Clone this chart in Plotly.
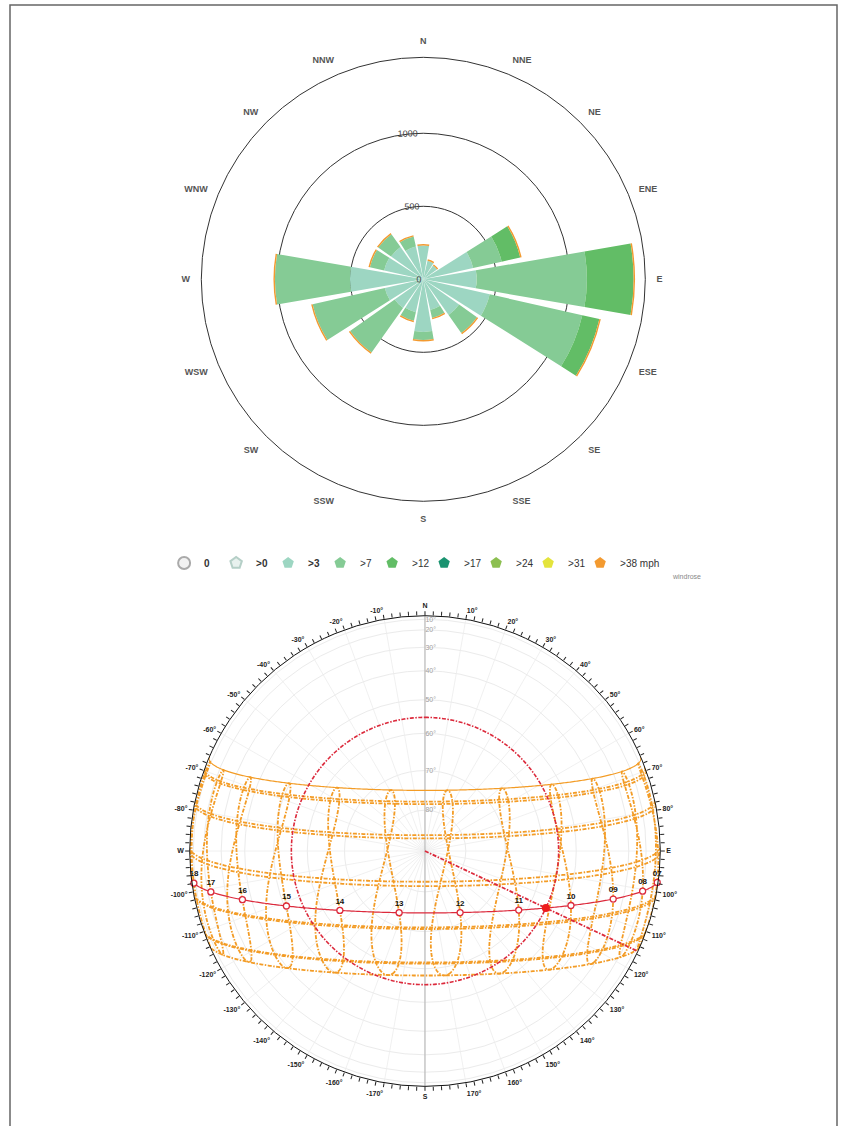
import numpy as np
import plotly.graph_objects as go

# ---------------- Wind rose data (frequency) ----------------
DIRECTIONS = ["N", "NNE", "NE", "ENE", "E", "ESE", "SE", "SSE",
              "S", "SSW", "SW", "WSW", "W", "WNW", "NW", "NNW"]
BIN_NAMES = ["0", ">0", ">3", ">7", ">12", ">17", ">24", ">31", ">38 mph"]
BIN_COLORS = ["#e4e4e4", "#c6e3da", "#9dd6c2", "#85cb95", "#62bd66",
              "#1a9370", "#8cbf50", "#e4e43c", "#f39a30"]
FREQ_GT0 = [0, 0, 0, 0, 0, 0, 0, 0, 0, 0, 0, 0, 0, 0, 0, 0]
FREQ_GT3 = [232, 130, 115, 350, 365, 466, 300, 215, 360, 231, 240, 270, 502, 275, 270, 230]
FREQ_GT7 = [0, 0, 0, 200, 755, 650, 150, 56, 55, 60, 374, 507, 514, 100, 108, 70]
FREQ_GT12 = [0, 0, 0, 130, 320, 120, 0, 0, 0, 0, 0, 0, 0, 0, 0, 0]
FREQ_GT17 = [0, 0, 0, 0, 0, 0, 0, 0, 0, 0, 0, 0, 0, 0, 0, 0]
FREQ_GT24 = [0, 0, 0, 0, 0, 0, 0, 0, 0, 0, 0, 0, 0, 0, 0, 0]
FREQ_GT31 = [0, 0, 0, 0, 0, 0, 0, 0, 0, 0, 0, 0, 0, 0, 0, 0]
FREQ_GT38 = [10, 10, 10, 10, 10, 10, 10, 10, 10, 10, 10, 10, 10, 10, 10, 10]
WIND_RTICKS = [0, 500, 1000]

# ---------------- Sun path data (site, dates, hours) ----------------
LATITUDE = 8.52
LONGITUDE = 76.94
UTC_OFFSET = 5.5
DATE_LINES = [(1, 21), (2, 21), (3, 21), (4, 21), (5, 21), (6, 21),
              (7, 21), (8, 21), (9, 21), (10, 21), (11, 21), (12, 21)]
SOLID_DATE = (6, 21)
ANALEMMA_HOURS = [5, 6, 7, 8, 9, 10, 11, 12, 13, 14, 15, 16, 17, 18, 19]
CURRENT_DAY = (3, 4)
CURRENT_TIME = 10.5
HOUR_MARKERS = [7, 8, 9, 10, 11, 12, 13, 14, 15, 16, 17, 18]
HOUR_LABELS = ["07", "08", "09", "10", "11", "12", "13", "14", "15", "16", "17", "18"]
ALTITUDE_RINGS = [10, 20, 30, 40, 50, 60, 70, 80]
AZ_TICKS = list(range(0, 360, 2))
AZ_GRID = list(range(0, 360, 10))

MONTH_START = [0, 31, 59, 90, 120, 151, 181, 212, 243, 273, 304, 334]


def doy(md):
    return MONTH_START[md[0] - 1] + md[1]


def sun_pos(day, clock):
    """Orthographic sky projection (r = cos(alt), az clockwise from N)."""
    day = np.asarray(day, dtype=float)
    clock = np.asarray(clock, dtype=float)
    g = 2 * np.pi / 365 * (day - 1 + (clock - 12) / 24)
    eqt = 229.18 * (0.000075 + 0.001868 * np.cos(g) - 0.032077 * np.sin(g)
                    - 0.014615 * np.cos(2 * g) - 0.040849 * np.sin(2 * g))
    dec = (0.006918 - 0.399912 * np.cos(g) + 0.070257 * np.sin(g)
           - 0.006758 * np.cos(2 * g) + 0.000907 * np.sin(2 * g)
           - 0.002697 * np.cos(3 * g) + 0.00148 * np.sin(3 * g))
    tst = clock * 60 + eqt + 4 * LONGITUDE - 60 * UTC_OFFSET
    ha = np.radians(tst / 4 - 180)
    lat = np.radians(LATITUDE)
    east = -np.cos(dec) * np.sin(ha)
    north = np.cos(lat) * np.sin(dec) - np.sin(lat) * np.cos(dec) * np.cos(ha)
    up = np.sin(lat) * np.sin(dec) + np.cos(lat) * np.cos(dec) * np.cos(ha)
    r = np.hypot(east, north)
    az = np.degrees(np.arctan2(east, north)) % 360
    return r, az, up


def clip(r, az, up):
    r = [float(a) if u >= 0 else None for a, u in zip(r, up)]
    az = [float(a) if u >= 0 else None for a, u in zip(az, up)]
    return r, az


fig = go.Figure()

# ---------------- Wind rose ----------------
bin_values = [FREQ_GT0, FREQ_GT0, FREQ_GT3, FREQ_GT7, FREQ_GT12,
              FREQ_GT17, FREQ_GT24, FREQ_GT31, FREQ_GT38]
for i in range(1, len(BIN_NAMES)):
    fig.add_trace(go.Barpolar(r=bin_values[i], theta=DIRECTIONS, name=BIN_NAMES[i],
                              marker=dict(color=BIN_COLORS[i], line=dict(width=0)),
                              showlegend=False, subplot="polar"))

# legend entries
legend_names = ["<b>0</b>", "<b>>0</b>", "<b>>3</b>", ">7", ">12", ">17", ">24", ">31", ">38 mph"]
for i, nm in enumerate(legend_names):
    mk = dict(symbol="pentagon", size=11, color=BIN_COLORS[i], line=dict(width=0))
    if i == 0:
        mk = dict(symbol="circle", size=10, color="#f2f2f2", line=dict(width=1, color="#aaaaaa"))
    if i == 1:
        mk = dict(symbol="pentagon", size=11, color="#e8f1ee", line=dict(width=1, color="#b5cfc7"))
    fig.add_trace(go.Scatterpolar(r=[None], theta=[None], mode="markers", marker=mk,
                                  name=nm, subplot="polar", showlegend=True))
# spacer entry so the last legend label is not clipped
fig.add_trace(go.Scatterpolar(r=[None], theta=[None], mode="markers",
                              marker=dict(size=1, color="rgba(0,0,0,0)"),
                              name="\u00a0", subplot="polar", showlegend=True))

# ---------------- Sun path ----------------
ORANGE = "#f39c26"
RED = "#dc2a3c"
DASHDOT = "4px,1.5px,1.5px,1.5px"

# faint azimuth grid
gr, gt = [], []
for a in AZ_GRID:
    gr += [0, 1, None]
    gt += [a, a, None]
fig.add_trace(go.Scatterpolar(r=gr, theta=gt, mode="lines", line=dict(color="#ececec", width=0.8),
                              hoverinfo="skip", showlegend=False, subplot="polar2"))
fig.add_trace(go.Scatterpolar(r=[1, 0, 1], theta=[0, 0, 180], mode="lines",
                              line=dict(color="#b0b0b0", width=1),
                              hoverinfo="skip", showlegend=False, subplot="polar2"))

# analemmas
days = np.arange(1, 367)
for h in ANALEMMA_HOURS:
    d = np.append(days[:-1], 1)
    r, az, up = sun_pos(d, np.full(d.shape, float(h)))
    r, az = clip(r, az, up)
    fig.add_trace(go.Scatterpolar(r=r, theta=az, mode="lines",
                                  line=dict(color=ORANGE, width=1.8, dash=DASHDOT),
                                  hoverinfo="skip", showlegend=False, subplot="polar2"))

# monthly date lines
times = np.arange(4.0, 20.5, 1 / 30)
for md in DATE_LINES:
    r, az, up = sun_pos(np.full(times.shape, doy(md)), times)
    r, az = clip(r, az, up)
    solid = md == SOLID_DATE
    fig.add_trace(go.Scatterpolar(r=r, theta=az, mode="lines",
                                  line=dict(color=ORANGE, width=1.2 if solid else 1.8,
                                            dash="solid" if solid else DASHDOT),
                                  hoverinfo="skip", showlegend=False, subplot="polar2"))

# current day path
cd = doy(CURRENT_DAY)
r, az, up = sun_pos(np.full(times.shape, cd), times)
r, az = clip(r, az, up)
fig.add_trace(go.Scatterpolar(r=r, theta=az, mode="lines", line=dict(color=RED, width=1.2),
                              hoverinfo="skip", showlegend=False, subplot="polar2"))

# current sun position: altitude circle + azimuth line
sr, saz, sup = sun_pos(cd, CURRENT_TIME)
circ_t = np.arange(0, 361, 1)
fig.add_trace(go.Scatterpolar(r=[float(sr)] * len(circ_t), theta=circ_t, mode="lines",
                              line=dict(color=RED, width=1.6, dash="4px,1.5px,1.5px,1.5px"),
                              hoverinfo="skip", showlegend=False, subplot="polar2"))
fig.add_trace(go.Scatterpolar(r=[0, 1], theta=[float(saz), float(saz)], mode="lines",
                              line=dict(color=RED, width=1.8, dash="4px,1.5px,1.5px,1.5px"),
                              hoverinfo="skip", showlegend=False, subplot="polar2"))

# hour markers on current day
hr, haz, hup = sun_pos(np.full(len(HOUR_MARKERS), cd), np.array(HOUR_MARKERS, dtype=float))
fig.add_trace(go.Scatterpolar(r=hr, theta=haz, mode="markers+text",
                              text=[f"<b>{t}</b>" for t in HOUR_LABELS],
                              textposition="top center",
                              textfont=dict(size=8, color="#111111", family="Liberation Sans"),
                              marker=dict(size=6, color="white", line=dict(color=RED, width=1.3)),
                              hoverinfo="skip", showlegend=False, subplot="polar2"))
fig.add_trace(go.Scatterpolar(r=[float(sr)], theta=[float(saz)], mode="markers",
                              marker=dict(size=8, color="#ee1c1c"),
                              hoverinfo="skip", showlegend=False, subplot="polar2"))


def az_label(a):
    if a % 10:
        return ""
    names = {0: "N", 90: "E", 180: "S", 270: "W"}
    if a in names:
        return f"<b>{names[a]}</b>"
    return f"<b>{a}°</b>" if a < 180 else f"<b>{a - 360}°</b>"


ring_vals = [float(np.cos(np.radians(a))) for a in ALTITUDE_RINGS]

fig.update_layout(
    width=846, height=1126,
    margin=dict(l=0, r=0, t=0, b=0),
    paper_bgcolor="white",
    font=dict(family="Liberation Sans", color="#333333"),
    polar=dict(
        domain=dict(x=[0.2379, 0.7628], y=[0.5548, 0.9491]),
        bgcolor="white",
        bargap=0.13,
        angularaxis=dict(type="category", categoryarray=DIRECTIONS, rotation=90,
                         direction="clockwise", showgrid=False, showline=True,
                         tickmode="array", tickvals=DIRECTIONS,
                         ticktext=[f"<b>{d}</b>" for d in DIRECTIONS],
                         linecolor="#333333", linewidth=1, ticks="outside", ticklen=9,
                         tickcolor="rgba(0,0,0,0)",
                         tickfont=dict(size=9, color="#555555", family="Liberation Sans")),
        radialaxis=dict(range=[0, 1520], tickmode="array", tickvals=WIND_RTICKS,
                        showgrid=True, gridcolor="#333333", gridwidth=1, showline=False,
                        angle=91.5, tickangle=90, ticks="",
                        tickfont=dict(size=9, color="#444444"),
                        side="counterclockwise"),
    ),
    polar2=dict(
        domain=dict(x=[0.2242, 0.7805], y=[0.0352, 0.4532]),
        bgcolor="white",
        angularaxis=dict(rotation=90, direction="clockwise", tickmode="array",
                         tickvals=AZ_TICKS, ticktext=[az_label(a) for a in AZ_TICKS],
                         showgrid=False, showline=True, linecolor="#111111", linewidth=1,
                         ticks="outside", ticklen=4, tickcolor="#222222", tickwidth=0.8,
                         tickfont=dict(size=7, color="#222222", family="Liberation Sans")),
        radialaxis=dict(range=[0, 1], tickmode="array", tickvals=ring_vals,
                        ticktext=[f"{a}°" for a in ALTITUDE_RINGS],
                        showgrid=True, gridcolor="#ebebeb", gridwidth=0.8, showline=False,
                        angle=90, tickangle=90, ticks="", side="clockwise",
                        tickfont=dict(size=7, color="#a0a0a0")),
    ),
    legend=dict(orientation="h", x=0.194, y=0.5, xanchor="left", yanchor="middle",
                font=dict(size=10, color="#333333", family="Liberation Sans"),
                entrywidth=7, entrywidthmode="pixels", itemsizing="constant",
                bgcolor="rgba(0,0,0,0)"),
    shapes=[dict(type="rect", xref="paper", yref="paper",
                 x0=10 / 846, x1=837 / 846, y0=-0.01, y1=1 - 5 / 1126,
                 line=dict(color="#666666", width=1.5))],
    annotations=[dict(text="windrose", x=686 / 846, y=1 - 576 / 1126, xref="paper", yref="paper",
                      xanchor="center", yanchor="middle",
                      showarrow=False, font=dict(size=7, color="#888888"))],
)

fig.write_html("out.html")
